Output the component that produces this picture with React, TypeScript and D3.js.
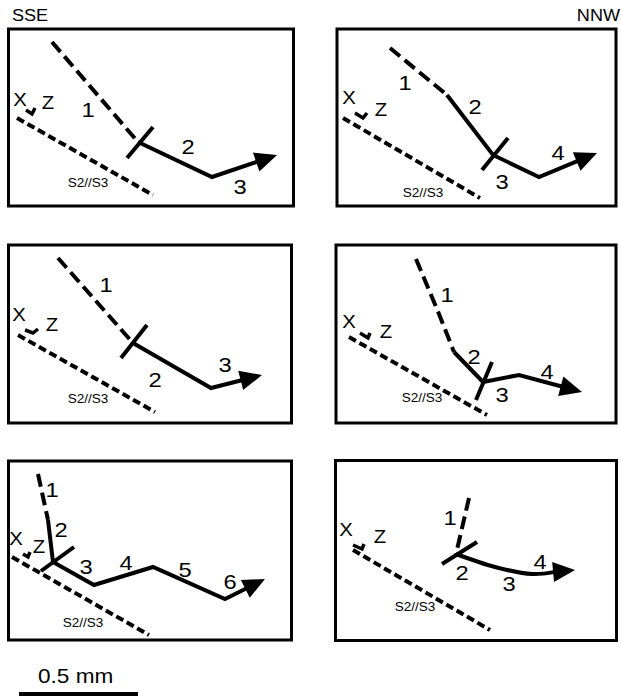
import * as d3 from 'd3';

type Pt = [number, number];
type Label = [string, number, number];

// panel frames (page px): left, top, width, height
const frameLeft = [8.5, 337, 8.5, 336, 8.5, 335.5];
const frameTop = [29, 29, 245, 245, 461, 460.5];
const frameWidth = [285, 279, 283, 280, 283, 281];
const frameHeight = [177, 177, 178, 178, 179, 180];

// local origin of each panel's drawing
const originX = [7, 335, 7, 335, 7, 335];
const originY = [28, 28, 244, 244, 460, 460];

// dashed early part of each trail
const dashed: Pt[][] = [
  [[45, 14], [131, 114]],
  [[55, 20], [112, 67]],
  [[51, 14], [126, 99]],
  [[81, 15], [104, 70], [119, 108]],
  [[31, 14], [41, 60]],
  [[134, 38], [121, 94]],
];

// solid trail, last point is arrow tip
const solid: Pt[][] = [
  [[131, 114], [205, 149], [270, 127]],
  [[112, 67], [158, 127], [204, 149], [262, 125]],
  [[126, 99], [204, 144], [255, 131]],
  [[119, 108], [148, 138], [184, 131], [247, 148]],
  [[41, 60], [46, 102], [87, 125], [146, 107], [218, 139], [258, 119]],
  [[121, 94], [160, 107], [197, 114], [240, 110]],
];

// cross tick marks
const ticks: Pt[][] = [
  [[146, 99], [120, 130]],
  [[173, 110], [147, 142]],
  [[140, 81], [114, 114]],
  [[157, 118], [141, 156]],
  [[67, 87], [34, 111]],
  [[142, 82], [107, 104]],
];

// S2//S3 foliation trace
const foliation: Pt[][] = [
  [[10, 90], [146, 167]],
  [[8, 90], [145, 170]],
  [[11, 91], [148, 168]],
  [[14, 93], [152, 171]],
  [[5, 97], [142, 175]],
  [[18, 90], [155, 170]],
];

const foliationText: Pt[] = [[81, 155], [88, 165], [81, 155], [87, 154], [76, 163], [80, 147]];

// X / Z axis symbol
const xPos: Pt[] = [[13, 72], [14, 70], [12, 71], [14, 78], [9, 79], [11, 70]];
const zPos: Pt[] = [[41, 75], [46, 82], [45, 81], [51, 88], [32, 87], [45, 77]];
const corner: Pt[][] = [
  [[19, 82], [25, 86], [28, 80]],
  [[20, 85], [28, 90], [32, 85]],
  [[18, 86], [26, 89], [31, 85]],
  [[25, 89], [33, 94], [35, 89]],
  [[16, 94], [21, 97], [23, 92]],
  [[18, 85], [27, 89], [29, 84]],
];

const stepLabels: Label[][] = [
  [['1', 81, 82], ['2', 181, 119], ['3', 233, 159]],
  [['1', 70, 55], ['2', 140, 79], ['3', 167, 154], ['4', 223, 125]],
  [['1', 99, 41], ['2', 148, 136], ['3', 218, 121]],
  [['1', 112, 51], ['2', 139, 113], ['3', 167, 151], ['4', 212, 128]],
  [['1', 45, 30], ['2', 54, 70], ['3', 79, 107], ['4', 119, 103], ['5', 178, 110], ['6', 223, 122]],
  [['1', 115, 58], ['2', 127, 113], ['3', 174, 124], ['4', 205, 102]],
];

const curvedPanels = [5];

const FONT = 'Liberation Sans, Arial, Helvetica, sans-serif';
const STRETCH = 1.13;

function Txt({ x, y, size, children, anchor = 'middle' }: any) {
  return (
    <text
      transform={`translate(${x},${y}) scale(${STRETCH},1)`}
      fontSize={size}
      fontFamily={FONT}
      textAnchor={anchor}
      dominantBaseline="central"
      fill="#000"
    >
      {children}
    </text>
  );
}

function Panel({ i }: { i: number }) {
  const sx = d3.scaleLinear().domain([0, 1]).range([originX[i], originX[i] + 1]);
  const sy = d3.scaleLinear().domain([0, 1]).range([originY[i], originY[i] + 1]);
  const straight = d3.line<Pt>().x(d => sx(d[0])).y(d => sy(d[1]));
  const trailLine = d3
    .line<Pt>()
    .x(d => sx(d[0]))
    .y(d => sy(d[1]))
    .curve(curvedPanels.includes(i) ? d3.curveCatmullRom.alpha(0.5) : d3.curveLinear);

  // arrow head
  const pts = solid[i];
  const tip = pts[pts.length - 1];
  const prev = pts[pts.length - 2];
  const dx = tip[0] - prev[0];
  const dy = tip[1] - prev[1];
  const len = Math.hypot(dx, dy);
  const ux = dx / len;
  const uy = dy / len;
  const headLen = 22;
  const halfW = 10;
  const base: Pt = [tip[0] - ux * headLen, tip[1] - uy * headLen];
  const head: Pt[] = [
    tip,
    [base[0] - uy * halfW, base[1] + ux * halfW],
    [base[0] + uy * halfW, base[1] - ux * halfW],
  ];
  const trailPts: Pt[] = [...pts.slice(0, -1), [base[0] + ux * 2, base[1] + uy * 2]];

  return (
    <g>
      <rect
        x={frameLeft[i]}
        y={frameTop[i]}
        width={frameWidth[i]}
        height={frameHeight[i]}
        fill="none"
        stroke="#000"
        strokeWidth={3}
      />
      <path d={straight(foliation[i]) || ''} fill="none" stroke="#000" strokeWidth={4} strokeDasharray="8,4" />
      <path d={straight(dashed[i]) || ''} fill="none" stroke="#000" strokeWidth={4} strokeDasharray="13,6" />
      <path d={trailLine(trailPts) || ''} fill="none" stroke="#000" strokeWidth={4} strokeLinejoin="miter" />
      <path d={(straight(head) || '') + 'Z'} fill="#000" stroke="none" />
      <path d={straight(ticks[i]) || ''} fill="none" stroke="#000" strokeWidth={4} />
      <path d={straight(corner[i]) || ''} fill="none" stroke="#000" strokeWidth={3.5} />
      <Txt x={sx(xPos[i][0])} y={sy(xPos[i][1])} size={18}>X</Txt>
      <Txt x={sx(zPos[i][0])} y={sy(zPos[i][1])} size={18}>Z</Txt>
      <Txt x={sx(foliationText[i][0])} y={sy(foliationText[i][1])} size={12}>S2//S3</Txt>
      {stepLabels[i].map(([t, x, y]) => (
        <Txt key={t} x={sx(x)} y={sy(y)} size={21}>{t}</Txt>
      ))}
    </g>
  );
}

export default function App() {
  return (
    <svg
      width={621}
      height={697}
      style={{ position: 'absolute', left: 0, top: 0, background: '#fff' }}
    >
      <rect width={621} height={697} fill="#fff" />
      <text x={12} y={21} fontSize={16} fontFamily={FONT} transform={`translate(12,0) scale(${STRETCH},1) translate(-12,0)`}>SSE</text>
      <text x={620} y={21} fontSize={16} fontFamily={FONT} textAnchor="end" transform={`translate(620,0) scale(${STRETCH},1) translate(-620,0)`}>NNW</text>
      {d3.range(6).map(i => (
        <Panel key={i} i={i} />
      ))}
      <text x={38} y={683} fontSize={20} fontFamily={FONT} transform={`translate(38,0) scale(${STRETCH},1) translate(-38,0)`}>0.5 mm</text>
      <line x1={19} x2={138} y1={694} y2={694} stroke="#000" strokeWidth={4} />
    </svg>
  );
}
